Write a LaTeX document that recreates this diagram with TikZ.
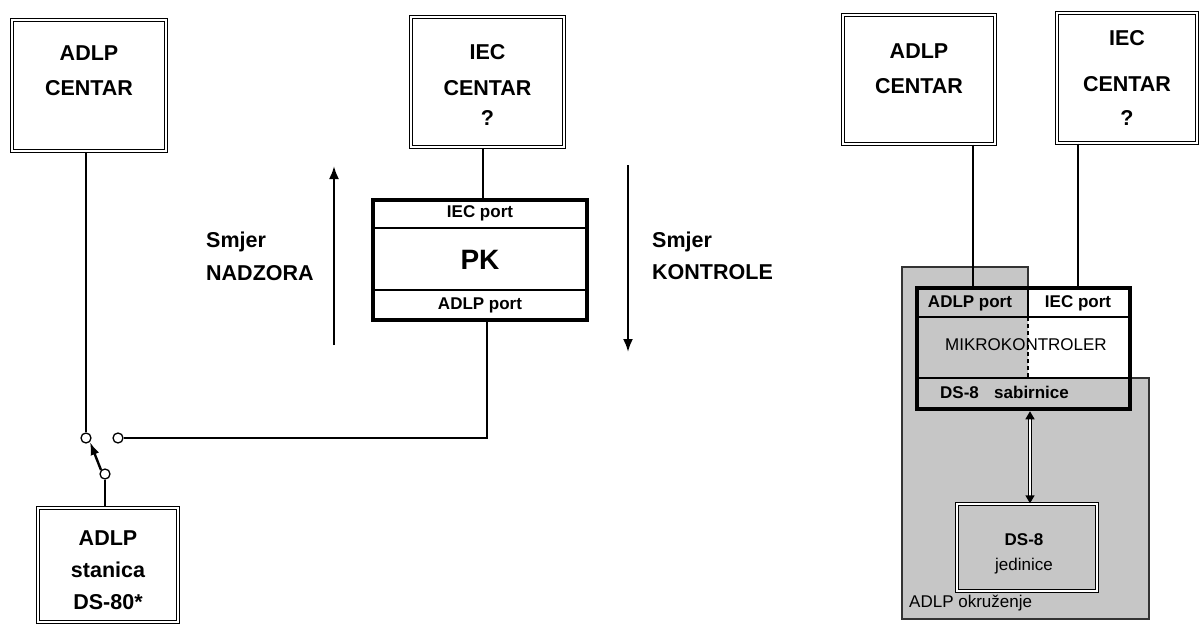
\documentclass[tikz,border=0pt]{standalone}
\usepackage{fontspec}
\setmainfont{Liberation Sans}
\usetikzlibrary{arrows.meta}
\tikzset{
  dbox/.style={draw, double, double distance=2pt, line width=1.3pt, rectangle, inner sep=0pt},
  tbox/.style={draw, line width=4.5pt, rectangle, inner sep=0pt},
  big/.style={font=\fontsize{21.5}{25}\selectfont\bfseries, inner sep=0pt},
  mid/.style={font=\fontsize{17}{20}\selectfont\bfseries, inner sep=0pt},
  reg/.style={font=\fontsize{17}{20}\selectfont, inner sep=0pt},
  wire/.style={line width=1.6pt},
  sw/.style={circle, draw, line width=1.3pt, fill=white, minimum size=10pt, inner sep=0pt},
  dirarrow/.style={line width=2.2pt, -{Latex[length=13pt,width=10pt]}},
  lefttxt/.style={big, align=left, anchor=west}
}
\definecolor{envgray}{RGB}{198,198,198}
\begin{document}
\begin{tikzpicture}[x=1pt,y=-1pt]
\useasboundingbox (0,0) rectangle (1203,626);
% ---------- left part ----------
\node[dbox, minimum width=154pt, minimum height=131pt] (adlpL) at (89,85.5) {};
\node[big] (adlpLt1) at (89,53) {ADLP};
\node[big] (adlpLt2) at (89,88) {CENTAR};

\node[dbox, minimum width=153pt, minimum height=130pt] (iecL) at (487.5,82) {};
\node[big] (iecLt1) at (487.5,52) {IEC};
\node[big] (iecLt2) at (487.5,88) {CENTAR};
\node[big] (iecLt3) at (487.5,118) {?};

\node[tbox, minimum width=214pt, minimum height=120pt] (pk) at (480,260) {};
\draw[wire] (373,228) -- (587,228);
\draw[wire] (373,290) -- (587,290);
\node[mid] (pkt1) at (480,213) {IEC port};
\node[font=\fontsize{28}{32}\selectfont\bfseries, inner sep=0pt] (pkt2) at (480,260) {PK};
\node[mid] (pkt3) at (480,305) {ADLP port};

\coordinate (pktop) at (483,198);
\draw[wire] (pktop) -- (pktop |- iecL.south);

\node[dbox, minimum width=140pt, minimum height=114pt] (stan) at (108,565) {};
\node[big] (stant1) at (108,538) {ADLP};
\node[big] (stant2) at (108,570) {stanica};
\node[big] (stant3) at (108,602) {DS-80*};

% switch
\node[sw] (sw1) at (86,438) {};
\node[sw] (sw2) at (118,438) {};
\node[sw] (sw3) at (105,474) {};
\draw[wire] (sw1.north) -- (sw1.north |- adlpL.south);
\draw[wire] (sw3.south) -- (sw3.south |- stan.north);
\coordinate (pkbot) at (487,322);
\draw[wire] (sw2.east) -- (pkbot |- sw2.east) -- (pkbot);
\draw[line width=2.4pt, -{Latex[length=13pt,width=9pt]}] (sw3.north west) -- (sw1.south east);

% direction arrows
\coordinate (upS) at (334,345);
\coordinate (upE) at (334,166);
\draw[dirarrow] (upS) -- (upE);
\coordinate (dnS) at (628,165);
\coordinate (dnE) at (628,352);
\draw[dirarrow] (dnS) -- (dnE);
\node[lefttxt] (nad1) at (206,242) {Smjer};
\node[lefttxt] (nad2) at (206,273) {NADZORA};
\node[lefttxt] (kon1) at (652,242) {Smjer};
\node[lefttxt] (kon2) at (652,272) {KONTROLE};

% ---------- right part ----------
\fill[envgray] (902,267) -- (1028,267) -- (1028,378) -- (1149,378) -- (1149,619) -- (902,619) -- cycle;
\draw[line width=1.2pt, black!80] (1028,288) -- (1028,267) -- (902,267) -- (902,619) -- (1149,619) -- (1149,378) -- (1130,378);

\node[dbox, minimum width=152pt, minimum height=129pt, fill=white] (adlpR) at (919,79.5) {};
\node[big] (adlpRt1) at (919,51) {ADLP};
\node[big] (adlpRt2) at (919,86) {CENTAR};

\node[dbox, minimum width=140pt, minimum height=130pt, fill=white] (iecR) at (1127,78) {};
\node[big] (iecRt1) at (1127,38) {IEC};
\node[big] (iecRt2) at (1127,84) {CENTAR};
\node[big] (iecRt3) at (1127,118) {?};

\node[tbox, minimum width=213pt, minimum height=121pt] (mk) at (1023.5,348.5) {};
\draw[wire] (917,317) -- (1130,317);
\draw[wire] (917,378) -- (1130,378);
\draw[line width=1.6pt] (1028,288) -- (1028,317);
\draw[line width=1.4pt, dash pattern=on 4pt off 3pt] (1028,317) -- (1028,378);
\node[mid] (mkt1) at (970,303) {ADLP port};
\node[mid] (mkt2) at (1078,303) {IEC port};
\node[reg] (mkt3) at (1026,345) {MIKROKONTROLER};
\node[mid, anchor=west] (mkt4) at (940,392) {DS-8\hspace{0.9em}sabirnice};

\draw[wire] (adlpR.south -| 973,0) -- (mk.north -| 973,0);
\draw[wire] (iecR.south -| 1078,0) -- (mk.north -| 1078,0);

\node[dbox, minimum width=140pt, minimum height=87pt, fill=envgray] (ds8) at (1027,547.5) {};
\node[mid] (ds8t1) at (1024,540) {DS-8};
\node[reg] (ds8t2) at (1024,566) {jedinice};
\draw[double, double distance=1.8pt, line width=1.3pt, {Triangle[length=8pt,width=9pt]}-{Triangle[length=8pt,width=9pt]}] (mk.south -| 1030,0) -- (ds8.north -| 1030,0);

\node[reg, anchor=west] (env) at (909,603) {ADLP okruženje};
\end{tikzpicture}
\end{document}
